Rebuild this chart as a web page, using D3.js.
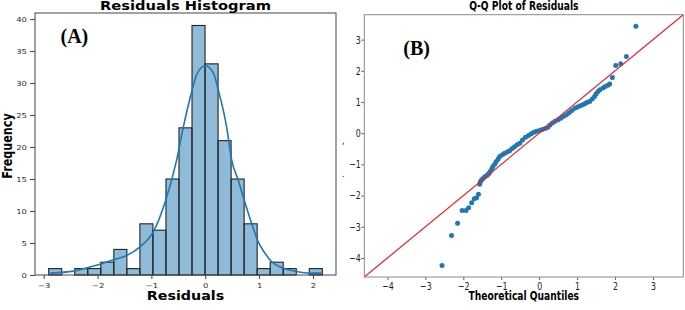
<!DOCTYPE html>
<html>
<head>
<meta charset="utf-8">
<script src="https://cdn.jsdelivr.net/npm/d3@7"></script>
<style>
body{margin:0;background:#fff}
svg{display:block}
</style>
</head>
<body>
<svg id="fig" width="685" height="310"></svg>
<script>
//* panel A data: 21 equal bins between min and max residual
var histMin = -2.907, histMax = 2.174
var histCounts = [1,0,1,1,2,4,1,8,7,15,23,39,33,21,15,8,1,2,1,0,1]
//* kde curve
var kdeX = [-2.88,-2.44,-2.14,-1.70,-1.46,-1.21,-0.96,-0.75,-0.53,-0.41,-0.24,-0.16,0.0,0.15,0.24,0.40,0.49,0.61,0.74,0.86,0.98,1.11,1.23,1.44,1.69,1.94,2.16]
var kdeY = [0.3,0.6,1.25,2.4,3.06,4.4,6.8,11.25,18,23,29,31.3,32.7,31.6,29,23,18,14.9,11.25,8.1,5.25,3.4,2.1,1.1,0.57,0.3,0.3]
var histXTicks = [-3,-2,-1,0,1,2]
var histYTicks = [0,5,10,15,20,25,30,35,40]

//* panel B data: theoretical vs sample quantiles
var qqTheo = [-2.56,-2.31,-2.15,-2.03,-1.93,-1.86,-1.78,-1.71,-1.65,-1.60,
  -1.57,-1.55,-1.52,-1.48,-1.44,-1.39,-1.35,-1.32,-1.29,-1.25,-1.22,-1.17,-1.13,-1.08,-1.04,
  -0.97,-0.91,-0.84,-0.78,-0.71,-0.65,-0.58,-0.51,-0.44,-0.36,-0.28,-0.21,-0.14,-0.07,0.01,
  0.08,0.16,0.23,0.28,0.35,0.42,0.50,0.57,0.64,0.72,0.79,0.86,0.94,1.01,1.08,1.15,1.21,1.27,
  1.33,1.40,1.46,1.50,1.55,1.60,1.68,1.74,1.81,1.86,1.93,2.02,2.15,2.30,2.55]
var qqSample = [-4.24,-3.28,-2.89,-2.48,-2.48,-2.39,-2.23,-2.10,-2.07,-1.96,
  -1.64,-1.56,-1.50,-1.45,-1.40,-1.36,-1.32,-1.28,-1.23,-1.15,-1.07,-0.99,-0.91,-0.83,-0.75,
  -0.69,-0.64,-0.60,-0.56,-0.49,-0.43,-0.37,-0.32,-0.22,-0.13,-0.07,-0.02,0.03,0.06,0.09,
  0.12,0.15,0.19,0.26,0.33,0.38,0.43,0.48,0.54,0.59,0.66,0.73,0.80,0.84,0.88,0.91,0.95,0.99,
  1.02,1.10,1.18,1.26,1.34,1.39,1.45,1.50,1.54,1.58,1.79,2.17,2.23,2.46,3.43]
var qqTicks = [-4,-3,-2,-1,0,1,2,3]
var qqLim = [-4.61, 3.80]

var svg = d3.select("#fig")
var font = "DejaVu Sans"

//* ---------- panel A : histogram ----------
var A = {l:35, r:336, t:13, b:275}
var binW = (histMax-histMin)/histCounts.length
var bins = histCounts.map((c,i) => ({x0: histMin+i*binW, x1: histMin+(i+1)*binW, n: c}))
var pad = (histMax-histMin)*0.05
var xA = d3.scaleLinear().domain([histMin-pad, histMax+pad]).range([A.l, A.r])
var yA = d3.scaleLinear().domain([0, d3.max(histCounts)*1.05]).range([A.b, A.t])

var gA = svg.append("g")
gA.selectAll("rect.bar").data(bins.filter(d => d.n > 0)).join("rect")
    .attr("class","bar")
    .attr("x", d => xA(d.x0)).attr("width", d => xA(d.x1)-xA(d.x0))
    .attr("y", d => yA(d.n)).attr("height", d => yA(0)-yA(d.n))
    .attr("fill","#1f77b4").attr("fill-opacity",0.5)
    .attr("stroke","#222").attr("stroke-width",1.1)

var kde = kdeX.map((x,i) => [x, kdeY[i]])
gA.append("path").datum(kde)
    .attr("d", d3.line().x(d => xA(d[0])).y(d => yA(d[1])).curve(d3.curveMonotoneX))
    .attr("fill","none").attr("stroke","#1f77b4").attr("stroke-width",1.6)

// axes (text squashed vertically like the picture)
var axAx = gA.append("g").attr("transform","translate(0,"+A.b+")")
    .call(d3.axisBottom(xA).tickValues(histXTicks).tickSize(4).tickFormat(d3.format("")))
var axAy = gA.append("g").attr("transform","translate("+A.l+",0)")
    .call(d3.axisLeft(yA).tickValues(histYTicks).tickSize(5).tickPadding(3))
;[axAx, axAy].forEach(ax => {
    ax.select(".domain").remove()
    ax.selectAll("line").attr("stroke","#444")
    ax.selectAll("text").attr("font-family",font).attr("font-size",8.5).attr("fill","#333")
        .attr("transform","scale(1,0.8)")
})
axAx.selectAll("text").attr("y",9.6)

gA.append("rect").attr("x",A.l).attr("y",A.t).attr("width",A.r-A.l).attr("height",A.b-A.t)
    .attr("fill","none").attr("stroke","#444").attr("stroke-width",1)

gA.append("text").text("Residuals Histogram")
    .attr("transform","translate("+((A.l+A.r)/2)+",9.5) scale(1,0.8)")
    .attr("text-anchor","middle").attr("font-family",font).attr("font-weight","bold").attr("font-size",14.7)
gA.append("text").text("Residuals")
    .attr("transform","translate("+((A.l+A.r)/2)+",299.5) scale(1,0.8)")
    .attr("text-anchor","middle").attr("font-family",font).attr("font-weight","bold").attr("font-size",14.3)
gA.append("text").text("Frequency")
    .attr("transform","translate(12.3,146) rotate(-90) scale(0.8,1)")
    .attr("text-anchor","middle").attr("font-family",font).attr("font-weight","bold").attr("font-size",14)
gA.append("text").text("(A)").attr("x",60.5).attr("y",43)
    .attr("font-family","Liberation Serif").attr("font-weight","bold").attr("font-size",20)

//* ---------- panel B : Q-Q plot ----------
var B = {l:364.3, r:683.3, t:14.7, b:277}
var xB = d3.scaleLinear().domain(qqLim).range([B.l, B.r])
var yB = d3.scaleLinear().domain(qqLim).range([B.b, B.t])
var gB = svg.append("g")

gB.selectAll("circle").data(qqTheo).join("circle")
    .attr("cx", d => xB(d)).attr("cy", (d,i) => yB(qqSample[i]))
    .attr("r",2.5).attr("fill","#1f77b4")

gB.append("line")
    .attr("x1", xB(qqLim[0])).attr("y1", yB(qqLim[0]))
    .attr("x2", xB(qqLim[1])).attr("y2", yB(qqLim[1]))
    .attr("stroke","#f02020").attr("stroke-width",1.2)

// condensed look: squash text horizontally
var axBx = gB.append("g").attr("transform","translate(0,"+B.b+")")
    .call(d3.axisBottom(xB).tickValues(qqTicks).tickSize(3).tickFormat(d3.format("")))
var axBy = gB.append("g").attr("transform","translate("+B.l+",0)")
    .call(d3.axisLeft(yB).tickValues(qqTicks).tickSize(3).tickFormat(d3.format("")))
;[axBx, axBy].forEach(ax => {
    ax.select(".domain").remove()
    ax.selectAll("line").attr("stroke","#666")
    ax.selectAll("text").attr("font-family",font).attr("font-size",10.5).attr("fill","#222")
        .attr("transform","scale(0.75,1)")
})
axBx.selectAll("text").attr("y",5.5)
axBy.selectAll("text").attr("x",-4.6)

gB.append("rect").attr("x",B.l).attr("y",B.t).attr("width",B.r-B.l).attr("height",B.b-B.t)
    .attr("fill","none").attr("stroke","#8a8a8a").attr("stroke-width",1)

gB.append("text").text("Q-Q Plot of Residuals")
    .attr("transform","translate("+((B.l+B.r)/2)+",10) scale(0.75,1)")
    .attr("text-anchor","middle").attr("font-family",font).attr("font-weight","bold").attr("font-size",12.2)
gB.append("text").text("Theoretical Quantiles")
    .attr("transform","translate("+((B.l+B.r)/2)+",299.5) scale(0.75,1)")
    .attr("text-anchor","middle").attr("font-family",font).attr("font-weight","bold").attr("font-size",12.2)
gB.append("text").text("(B)").attr("x",403.3).attr("y",54.7)
    .attr("font-family","Liberation Serif").attr("font-weight","bold").attr("font-size",20)

// leftovers of the cut-off y label
gB.append("text").text(",").attr("x",342).attr("y",144).attr("font-family",font).attr("font-size",8)
gB.append("text").text(".").attr("x",342).attr("y",177).attr("font-family",font).attr("font-size",8)
</script>
</body>
</html>
